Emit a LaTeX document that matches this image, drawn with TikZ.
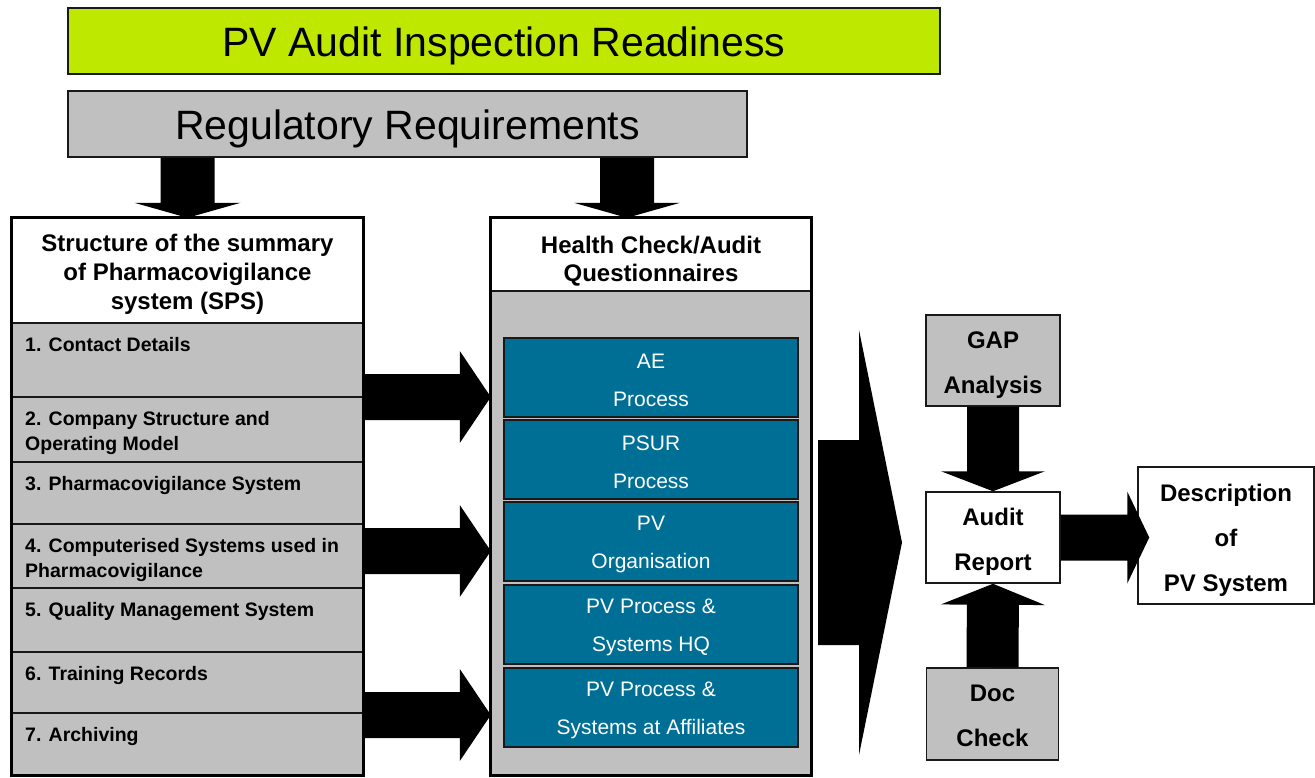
\documentclass[tikz,border=0pt]{standalone}
\usepackage{fontspec}
\setmainfont{Liberation Sans}
\usetikzlibrary{calc,positioning}

\definecolor{limefill}{RGB}{190,232,0}
\definecolor{boxgrey}{RGB}{192,192,192}
\definecolor{qblue}{RGB}{0,111,150}
\definecolor{edgedark}{RGB}{25,25,25}

% block arrow: tail, tip, shaft half width, head half width, head length
\newcommand{\fatarrow}[5]{%
\coordinate (fab) at ($(#2)!#5!(#1)$);
\fill ($(#1)!#3!90:(#2)$) -- ($(fab)!#3!90:(#2)$) -- ($(fab)!#4!90:(#2)$) -- (#2)
  -- ($(fab)!#4!-90:(#2)$) -- ($(fab)!#3!-90:(#2)$) -- ($(#1)!#3!-90:(#2)$) -- cycle;}

\tikzset{
 headbox/.style={draw=edgedark, line width=2pt, inner sep=0pt},
 headtext/.style={inner sep=0pt, font=\fontsize{41}{41}\selectfont},
 bigframe/.style={inner sep=0pt},
 boldhead/.style={fill=white, draw=edgedark, line width=2pt, inner sep=0pt},
 boldtext/.style={align=center, inner sep=0pt, font=\fontsize{24}{29}\selectfont\bfseries},
 rowtext/.style={anchor=north west, inner sep=0pt, align=left, font=\fontsize{19.5}{25}\selectfont\bfseries},
 qbox/.style={fill=qblue, draw=edgedark, line width=1.2pt, minimum width=294, minimum height=79, inner sep=0pt},
 qtext/.style={text=white, align=center, inner sep=0pt, font=\fontsize{21}{38}\selectfont},
 sidebox/.style={draw=edgedark, line width=1.5pt, inner sep=0pt},
 sidetext/.style={align=center, inner sep=0pt, font=\fontsize{24}{45}\selectfont\bfseries}
}

\begin{document}
\begin{tikzpicture}[x=1pt,y=-1pt]
\useasboundingbox (0,0) rectangle (1315,777);

\node[headbox, fill=limefill, minimum width=872, minimum height=66] (title) at (504,41) {};
\node[headtext] (titletxt) at ($(title.center)+(0,5)$) {PV Audit Inspection Readiness};
\node[headbox, fill=boxgrey, line width=1.5pt, minimum width=679, minimum height=66] (reg) at (407.5,124) {};
\node[headtext] (regtxt) at ($(reg.center)+(0,5)$) {Regulatory Requirements};

%% left column
\node[bigframe, minimum width=351, minimum height=557] (sps) at (187.5,496.5) {};
\node[boldhead, minimum width=351, minimum height=105] (spshead) at (187.5,270.5) {};
\node[boldtext] (spstxt) at ($(spshead.center)+(0,4)$) {Structure of the summary\\of Pharmacovigilance\\system (SPS)};
\foreach \i/\ya/\yb/\txt in {1/323/397/{1. Contact Details},
  2/397/462/{2. Company Structure and\\Operating Model},
  3/462/524/{3. Pharmacovigilance System},
  4/524/588/{4. Computerised Systems used in\\Pharmacovigilance},
  5/588/652/{5. Quality Management System},
  6/652/713/{6. Training Records},
  7/713/775/{7. Archiving}}{
  \draw[draw=edgedark, line width=1.2pt, fill=boxgrey] (12,\ya) rectangle (363,\yb);
  \node[rowtext] (row\i) at (25,\ya+14.5) {\txt};
}
\draw[line width=3pt] (sps.north west) rectangle (sps.south east);

%% middle column
\node[bigframe, fill=boxgrey, minimum width=320, minimum height=557] (hc) at (651,496.5) {};
\node[boldhead, minimum width=320, minimum height=73] (hchead) at (651,254.5) {};
\node[boldtext, font=\fontsize{24}{28}\selectfont\bfseries] (hctxt) at ($(hchead.center)+(0,7)$) {Health Check/Audit\\Questionnaires};
\foreach \i/\ya/\txt in {1/338/{AE\\Process}, 2/420/{PSUR\\Process}, 3/502/{PV\\Organisation},
  4/585/{PV Process \&\\Systems HQ}, 5/668/{PV Process \&\\Systems at Affiliates}}{
  \node[qbox] (q\i) at (651,\ya+39.5) {};
  \node[qtext] (q\i txt) at ($(q\i.center)+(0,2.5)$) {\txt};
}
\draw[line width=3pt] (hc.north west) rectangle (hc.south east);

%% right side
\node[sidebox, fill=boxgrey, minimum width=134, minimum height=91] (gap) at (993,360.5) {};
\node[sidetext] (gaptxt) at ($(gap.center)+(0,5)$) {GAP\\Analysis};
\node[sidebox, fill=white, minimum width=134, minimum height=91] (audit) at (993,537.5) {};
\node[sidetext] (audittxt) at ($(audit.center)+(0,4)$) {Audit\\Report};
\node[sidebox, fill=boxgrey, minimum width=132, minimum height=92] (doc) at (992.5,714) {};
\node[sidetext] (doctxt) at ($(doc.center)+(0,2)$) {Doc\\Check};
\node[sidebox, fill=white, minimum width=176, minimum height=137] (desc) at (1226,535.5) {};
\node[sidetext] (desctxt) at ($(desc.center)+(0,5)$) {Description\\of\\PV System};

%% block arrows
\coordinate (regl) at (reg.south -| sps.north);
\fatarrow{regl}{sps.north}{27pt}{53pt}{15pt}
\coordinate (regr) at ($(reg.south -| hc.north)+(-24,0)$);
\coordinate (hctop) at ($(hc.north)+(-24,0)$);
\fatarrow{regr}{hctop}{27pt}{53pt}{15pt}

\foreach \i/\y in {1/397,2/551,3/715}{
  \coordinate (spsout\i) at (sps.east |- 0,\y);
  \coordinate (hcin\i) at (hc.west |- 0,\y);
  \fatarrow{spsout\i}{hcin\i}{23pt}{46pt}{31pt}
}

\coordinate (chevtail) at (818,542.5);
\coordinate (chevtip) at (902,542.5);
\fatarrow{chevtail}{chevtip}{102.5pt}{212.5pt}{43pt}

\fatarrow{gap.south}{audit.north}{26pt}{52pt}{20pt}
\fatarrow{doc.north}{audit.south}{26pt}{52pt}{21pt}
\coordinate (desctip) at ($(audit.east -| desc.west)+(12,0)$);
\fatarrow{audit.east}{desctip}{23pt}{46pt}{22pt}

\end{tikzpicture}
\end{document}
